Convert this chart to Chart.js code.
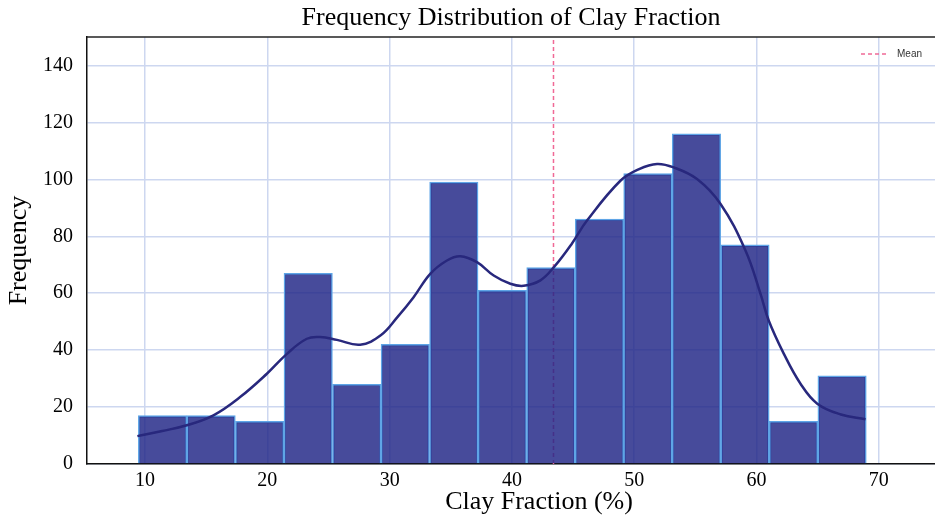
<!DOCTYPE html>
<html>
<head>
<meta charset="utf-8">
<script src="https://cdn.jsdelivr.net/npm/chart.js@4.4.1/dist/chart.umd.min.js"></script>
<style>
  html, body { margin: 0; padding: 0; background: #fff; }
  #wrap { width: 935px; height: 520px; }
</style>
</head>
<body>
<div id="wrap"><canvas id="histChart" width="935" height="520"></canvas></div>
<script>
// histogram bins (centre of each bin, width ~3.97)
const binCenters = [11.43, 15.40, 19.37, 23.34, 27.31, 31.28, 35.25, 39.22, 43.19, 47.16, 51.12, 55.09, 59.06, 63.03, 67.00];
const binCounts = [17, 17, 15, 67, 28, 42, 99, 61, 69, 86, 102, 116, 77, 15, 31];

// KDE curve
const kdeX = [9.37, 11.4, 13.41, 15.59, 17.77, 19.96, 21.6, 23.23, 24.32, 25.69, 27.59, 29.3, 30.6, 31.96, 33.32, 34.69, 35.78, 37.14, 38.51, 39.87, 40.96, 42.33, 43.5, 44.9, 46.14, 48.87, 50.4, 51.87, 53.23, 55.14, 57.05, 59.1, 60.33, 61.0, 62.24, 63.6, 64.97, 66.9, 68.92];
const kdeY = [9.8, 11.6, 13.6, 17.1, 23.5, 31.7, 38.7, 44.0, 44.6, 43.6, 41.9, 45.3, 51.4, 58.6, 66.8, 71.5, 73.0, 70.9, 66.2, 63.3, 62.6, 64.5, 69.5, 77.4, 85.5, 99.5, 103.6, 105.4, 104.2, 100.1, 91.4, 75.0, 59.8, 50.4, 38.7, 28.2, 21.2, 17.4, 15.7];

const meanValue = 43.4;
const xTicks = [10, 20, 30, 40, 50, 60, 70];
const yTicks = [0, 20, 40, 60, 80, 100, 120, 140];

const serif = "'Liberation Serif', 'Times New Roman', serif";
const gridColor = "rgb(205, 215, 240)";
const meanColor = "rgb(240, 105, 150)";

// top frame line, x axis label (off-centre in the original) and the little "Mean" legend
const framePlugin = {
    id: "frame",
    afterDraw(chart) {
        const { ctx, chartArea } = chart;
        ctx.save();
        ctx.strokeStyle = "#222";
        ctx.lineWidth = 1.5;
        ctx.beginPath();
        ctx.moveTo(chartArea.left, chartArea.top);
        ctx.lineTo(chartArea.right, chartArea.top);
        ctx.stroke();

        ctx.fillStyle = "#000";
        ctx.font = "26px " + serif;
        ctx.textAlign = "center";
        ctx.textBaseline = "middle";
        ctx.fillText("Clay Fraction (%)", 539, 502);

        // legend
        ctx.strokeStyle = meanColor;
        ctx.lineWidth = 1.5;
        ctx.setLineDash([4, 3]);
        ctx.beginPath();
        ctx.moveTo(861, 54);
        ctx.lineTo(886, 54);
        ctx.stroke();
        ctx.setLineDash([]);
        ctx.fillStyle = "#333";
        ctx.font = "10px 'Liberation Sans', Arial, sans-serif";
        ctx.textAlign = "left";
        ctx.fillText("Mean", 897, 54);
        ctx.restore();
    },
};

const ctx = document.getElementById("histChart").getContext("2d");
new Chart(ctx, {
    type: "bar",
    data: {
        datasets: [
            {
                type: "line",
                label: "KDE",
                data: kdeX.map((x, i) => ({ x: x, y: kdeY[i] })),
                borderColor: "rgb(40, 40, 125)",
                borderWidth: 2.5,
                pointRadius: 0,
                tension: 0.4,
                fill: false,
                order: 1,
            },
            {
                label: "Clay Fraction",
                data: binCenters.map((x, i) => ({ x: x, y: binCounts[i] })),
                backgroundColor: "rgba(30, 35, 133, 0.82)",
                borderColor: "rgb(95, 165, 230)",
                borderWidth: 1.5,
                barPercentage: 1,
                categoryPercentage: 1,
                order: 2,
            },
            {
                type: "line",
                label: "Mean",
                data: [{ x: meanValue, y: 0 }, { x: meanValue, y: 150 }],
                borderColor: meanColor,
                borderWidth: 1.5,
                borderDash: [4, 3],
                pointRadius: 0,
                fill: false,
                order: 3,
            },
        ],
    },
    options: {
        responsive: false,
        animation: false,
        layout: { padding: { left: 0, right: 0, top: 0, bottom: 22 } },
        plugins: {
            title: {
                display: true,
                text: "Frequency Distribution of Clay Fraction",
                color: "#000",
                font: { family: serif, size: 26, weight: "normal" },
                padding: { top: 2.4, bottom: 3.4 },
                fullSize: false,
            },
            legend: { display: false },
            tooltip: { enabled: false },
        },
        scales: {
            x: {
                type: "linear",
                min: 5.25,
                max: 74.6,
                offset: false,
                afterBuildTicks: (scale) => {
                    scale.ticks = xTicks.map((v) => ({ value: v }));
                },
                ticks: {
                    color: "#000",
                    font: { family: serif, size: 20 },
                    padding: 5,
                },
                grid: { color: gridColor, lineWidth: 1.5, drawTicks: false, offset: false },
                border: { color: "#111", width: 1.5 },
            },
            y: {
                min: 0,
                max: 150,
                afterBuildTicks: (scale) => {
                    scale.ticks = yTicks.map((v) => ({ value: v }));
                },
                ticks: {
                    color: "#000",
                    font: { family: serif, size: 20 },
                    padding: 14,
                },
                grid: { color: gridColor, lineWidth: 1.5, drawTicks: false },
                border: { color: "#111", width: 1.5 },
                title: {
                    display: true,
                    text: "Frequency",
                    color: "#000",
                    font: { family: serif, size: 26 },
                    padding: { top: 3.4, bottom: -5.6 },
                },
            },
        },
    },
    plugins: [framePlugin],
});
</script>
</body>
</html>
